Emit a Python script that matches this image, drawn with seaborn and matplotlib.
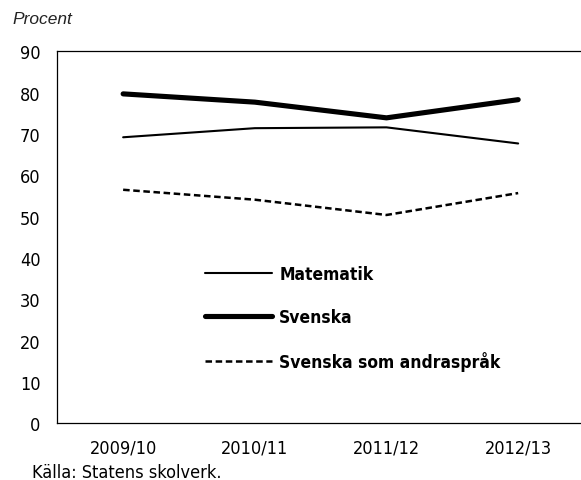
import matplotlib
matplotlib.use("Agg")
import matplotlib.pyplot as plt
from matplotlib import font_manager as fm
import seaborn as sns
import pandas as pd

# Data
years = ["2009/10", "2010/11", "2011/12", "2012/13"]
matematik = [69.2, 71.4, 71.6, 67.7]
svenska = [79.7, 77.7, 73.9, 78.3]
svenska_andra = [56.5, 54.1, 50.4, 55.7]
series_names = ["Matematik", "Svenska", "Svenska som andraspråk"]
yticks = [0, 10, 20, 30, 40, 50, 60, 70, 80, 90]
ylabel_text = "Procent"
source_text = "Källa: Statens skolverk."

sns.set_theme(style="white")
plt.rcParams["lines.scale_dashes"] = False


def find_font(bold=False):
    cands = []
    for f in fm.fontManager.ttflist:
        fn = f.fname.lower()
        if ("narrow" in fn or "condensed" in fn) and "oblique" not in fn and "italic" not in fn:
            isbold = "bold" in fn
            if isbold == bold:
                pri = 0 if "liberation" in fn else (1 if "dejavusans" in fn.replace("-", "") else 2)
                cands.append((pri, f.fname))
    if cands:
        cands.sort()
        return fm.FontProperties(fname=cands[0][1])
    return fm.FontProperties(family="DejaVu Sans", weight="bold" if bold else "normal")


fp_reg = find_font(False)
fp_bold = find_font(True)

df = pd.DataFrame({
    "year": years * 3,
    "value": matematik + svenska + svenska_andra,
    "series": [series_names[0]] * 4 + [series_names[1]] * 4 + [series_names[2]] * 4,
})

W, H = 581, 481
fig = plt.figure(figsize=(W / 100, H / 100), dpi=100)
left, right, bottom, top = 57.3, 584.0, 424.3, 52.3
ax = fig.add_axes([left / W, 1 - bottom / H, (right - left) / W, (bottom - top) / H])

styles = {
    series_names[0]: dict(lw=1.5, ls="-"),
    series_names[1]: dict(lw=3.7, ls="-"),
    series_names[2]: dict(lw=1.8, ls=(0, (4.7, 2.6))),
}
for name in series_names:
    sub = df[df["series"] == name]
    sns.lineplot(data=sub, x="year", y="value", ax=ax, color="black",
                 label=name, sort=False, solid_capstyle="round",
                 dash_capstyle="butt", **styles[name])

ax.set_xlim(-0.5, 3.5)
ax.set_ylim(0, 90)
ax.set_yticks(yticks)
ax.set_xticks(range(len(years)))
ax.set_xticklabels(years)
ax.set_xticks([-0.5, 0.5, 1.5, 2.5, 3.5], minor=True)
ax.tick_params(axis="x", which="major", length=0, pad=11, colors="black")
ax.tick_params(axis="x", which="minor", length=8, direction="inout", width=0.8, color="#555555")
ax.tick_params(axis="y", which="major", length=4.5, direction="in", width=0.8, pad=12,
               color="#555555", labelcolor="black")
for lbl in ax.get_xticklabels() + ax.get_yticklabels():
    lbl.set_fontproperties(fp_reg)
    lbl.set_fontsize(13)
ax.set_xlabel("")
ax.set_ylabel("")
for s in ["left", "bottom", "top"]:
    ax.spines[s].set_visible(True)
    ax.spines[s].set_color("black")
    ax.spines[s].set_linewidth(0.9)
ax.spines["right"].set_visible(False)
ax.grid(False)

lp = fp_bold.copy()
lp.set_size(12.5)
leg = ax.legend(loc="upper left", bbox_to_anchor=(196 / W, 1 - 257 / H),
                bbox_transform=fig.transFigure, frameon=False, borderpad=0,
                handlelength=3.9, handletextpad=0.4, labelspacing=1.45, prop=lp)
for t in leg.get_texts():
    t.set_color("black")

fig.text(12 / W, 1 - 20 / H, ylabel_text, ha="left", va="center", fontsize=12.5,
         style="italic", family=["Liberation Sans", "DejaVu Sans"], color="#222222")
sp = fp_reg.copy()
sp.set_size(13)
fig.text(32 / W, 1 - 473 / H, source_text, ha="left", va="center", fontproperties=sp, color="black")

fig.savefig("out.png", dpi=100)
